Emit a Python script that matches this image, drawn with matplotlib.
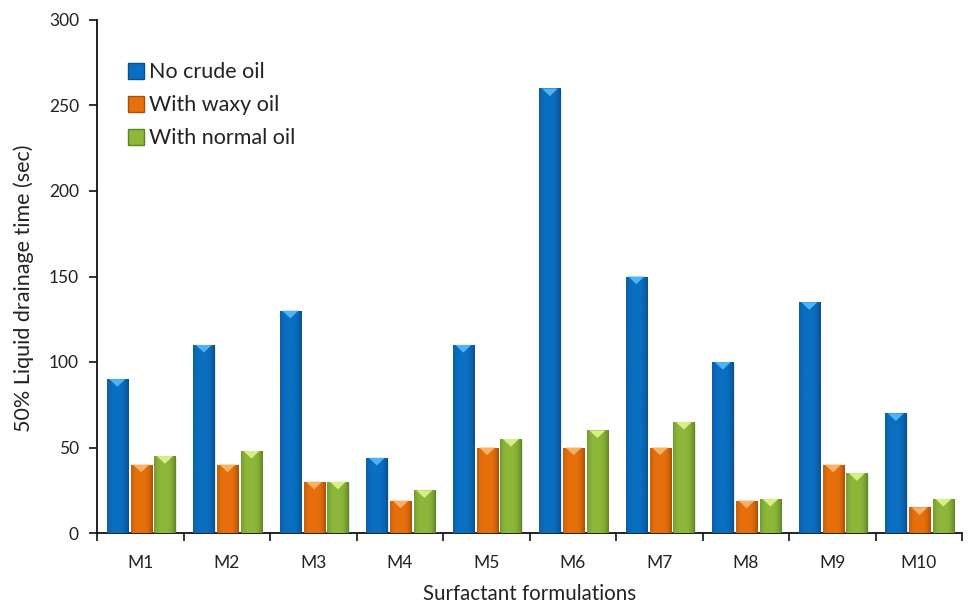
import numpy as np
import matplotlib
matplotlib.use('Agg')
import matplotlib.pyplot as plt
from matplotlib.patches import Polygon, Rectangle
from matplotlib.colors import to_rgb
from matplotlib.lines import Line2D

plt.rcParams['font.family'] = ['Lato', 'DejaVu Sans']

formulations = ['M1', 'M2', 'M3', 'M4', 'M5', 'M6', 'M7', 'M8', 'M9', 'M10']
no_crude_oil = [90, 110, 130, 44, 110, 260, 150, 100, 135, 70]
with_waxy_oil = [40, 40, 30, 19, 50, 50, 50, 19, 40, 15]
with_normal_oil = [45, 48, 30, 25, 55, 60, 65, 20, 35, 20]
series_names = ['No crude oil', 'With waxy oil', 'With normal oil']

# base, dark edge, light top facet
COLORS = [
    ('#0a6fc2', '#0a4f8c', '#4fb3f5'),
    ('#e8700c', '#a84f08', '#fbb163'),
    ('#8db83a', '#5f8225', '#d6ef86'),
]
TEXT = '#222222'


def shade_bar(ax, patch, base, dark, light):
    """Cylinder-like horizontal gradient plus a bevelled top facet."""
    x0, y0 = patch.get_x(), patch.get_y()
    w, h = patch.get_width(), patch.get_height()
    t = np.linspace(0, 1, 64)
    prof = np.clip(1 - np.abs((t - 0.45) / 0.55) ** 3, 0, 1)
    b, d = np.array(to_rgb(base)), np.array(to_rgb(dark))
    rgb = d[None, :] * (1 - prof[:, None]) + b[None, :] * prof[:, None]
    img = rgb[None, :, :]
    im = ax.imshow(img, extent=(x0, x0 + w, y0, y0 + h), aspect='auto',
                   interpolation='bilinear', zorder=3)
    im.set_clip_path(patch)
    # shadow to the right
    ax.add_patch(Rectangle((x0 + w * 0.06, y0), w, h - 1.0, facecolor='#000000',
                           alpha=0.10, edgecolor='none', zorder=2))
    # top facet
    dh = 4.5
    tri = Polygon([(x0 + w * 0.12, y0 + h), (x0 + w * 0.88, y0 + h),
                   (x0 + w * 0.5, y0 + h - dh)], closed=True,
                  facecolor=light, edgecolor='none', zorder=4)
    ax.add_patch(tri)


fig = plt.figure(figsize=(9.71, 6.03), dpi=100)
ax = fig.add_axes([97 / 971, 70 / 603, 865 / 971, 513 / 603])

x = np.arange(len(formulations))
width = 0.245
offsets = [-0.275, 0.0, 0.275]
all_series = [no_crude_oil, with_waxy_oil, with_normal_oil]

for vals, off, (base, dark, light) in zip(all_series, offsets, COLORS):
    bars = ax.bar(x + off + 0.01, vals, width, color=base, edgecolor='none', zorder=3)
    for p in bars:
        shade_bar(ax, p, base, dark, light)

ax.set_xlim(-0.5, len(formulations) - 0.5)
ax.set_ylim(0, 300)
ax.set_yticks(np.arange(0, 301, 50))
ax.set_xticks(x)
ax.set_xticklabels(formulations)
ax.set_xticks(np.arange(-0.5, len(formulations)), minor=True)
ax.tick_params(axis='x', which='major', length=0, pad=16, labelsize=12.5, labelcolor=TEXT)
ax.tick_params(axis='x', which='minor', length=6, width=1.2, direction='out', color='#111111')
ax.tick_params(axis='y', length=6, width=1.2, direction='out', color='#111111',
               labelsize=12.5, labelcolor=TEXT, pad=7)

for s in ['top', 'right']:
    ax.spines[s].set_visible(False)
for s in ['left', 'bottom']:
    ax.spines[s].set_linewidth(1.3)
    ax.spines[s].set_color('#111111')

ax.set_ylabel('50% Liquid drainage time (sec)', fontsize=15.5, color=TEXT)
ax.yaxis.set_label_coords(-0.073, 0.478)
ax.set_xlabel('Surfactant formulations', fontsize=14.8, color=TEXT, labelpad=9)

handles = [Line2D([], [], marker='s', linestyle='none', markersize=11,
                  markerfacecolor=c[0], markeredgecolor=c[1]) for c in COLORS]
ax.legend(handles, series_names, loc='upper left', bbox_to_anchor=(0.01, 0.955),
          frameon=False, fontsize=15.5, handletextpad=0.1, labelspacing=0.6,
          handlelength=1.0, labelcolor=TEXT)

fig.savefig('out.png', dpi=100)
